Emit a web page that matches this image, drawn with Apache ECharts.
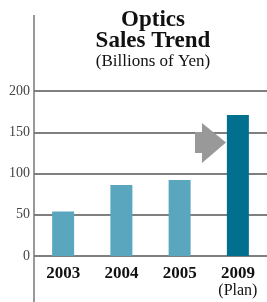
<!DOCTYPE html>
<html>
<head>
<meta charset="utf-8">
<script src="https://cdn.jsdelivr.net/npm/echarts@6/dist/echarts.min.js"></script>
<style>
  html, body { margin: 0; padding: 0; background: #fff; }
  #chart { width: 267px; height: 302px; }
</style>
</head>
<body>
<div id="chart"></div>
<script>
// Data
const years = ['2003', '2004', '2005', '2009'];
const sales = [54, 86, 92, 171]; // billions of yen
const planYear = '2009';
const yTicks = [0, 50, 100, 150, 200];

const colorActual = '#5ba6bf';
const colorPlan = '#00708e';
const serif = '"Liberation Serif", "DejaVu Serif", serif';

const chart = echarts.init(document.getElementById('chart'));

const option = {
  animation: false,
  title: {
    text: 'Optics\nSales Trend',
    subtext: '(Billions of Yen)',
    left: 153,
    top: 10,
    textAlign: 'center',
    padding: 0,
    itemGap: -1,
    textStyle: {
      fontFamily: serif,
      fontWeight: 'bold',
      fontSize: 23,
      lineHeight: 21,
      color: '#111'
    },
    subtextStyle: {
      fontFamily: serif,
      fontSize: 17,
      lineHeight: 18,
      color: '#111'
    }
  },
  grid: { left: 34, right: 0, top: 91, bottom: 46 },
  xAxis: {
    type: 'category',
    data: years,
    axisLine: { show: false },
    axisTick: { show: false },
    axisLabel: {
      margin: 9,
      interval: 0,
      formatter: v => v === planYear ? '{b|' + v + '}\n{p|(Plan)}' : '{b|' + v + '}',
      rich: {
        b: { fontFamily: serif, fontWeight: 'bold', fontSize: 17, lineHeight: 18, color: '#111' },
        p: { fontFamily: serif, fontSize: 16, lineHeight: 15, color: '#111' }
      }
    }
  },
  yAxis: {
    type: 'value',
    min: yTicks[0],
    max: yTicks[yTicks.length - 1],
    interval: 50,
    axisLine: { show: false },
    axisTick: { show: false },
    axisLabel: { margin: 4, fontFamily: serif, fontSize: 14, color: '#444' },
    splitLine: { lineStyle: { color: '#555', width: 1.5 } }
  },
  series: [{
    type: 'bar',
    barWidth: 22,
    z: 2,
    data: sales.map((v, i) => ({
      value: v,
      itemStyle: { color: years[i] === planYear ? colorPlan : colorActual }
    }))
  }],
  graphic: [
    {
      // vertical axis rule
      type: 'line',
      shape: { x1: 34, y1: 15, x2: 34, y2: 302 },
      style: { stroke: '#777', lineWidth: 1.5 },
      z: 10
    },
    {
      // grey arrow pointing to the plan bar
      type: 'polygon',
      shape: {
        points: [[195, 132], [202, 132], [202, 123], [226, 142.5], [202, 163], [202, 153], [195, 153]]
      },
      style: { fill: '#999' },
      z: 10
    }
  ]
};

chart.setOption(option);
</script>
</body>
</html>
